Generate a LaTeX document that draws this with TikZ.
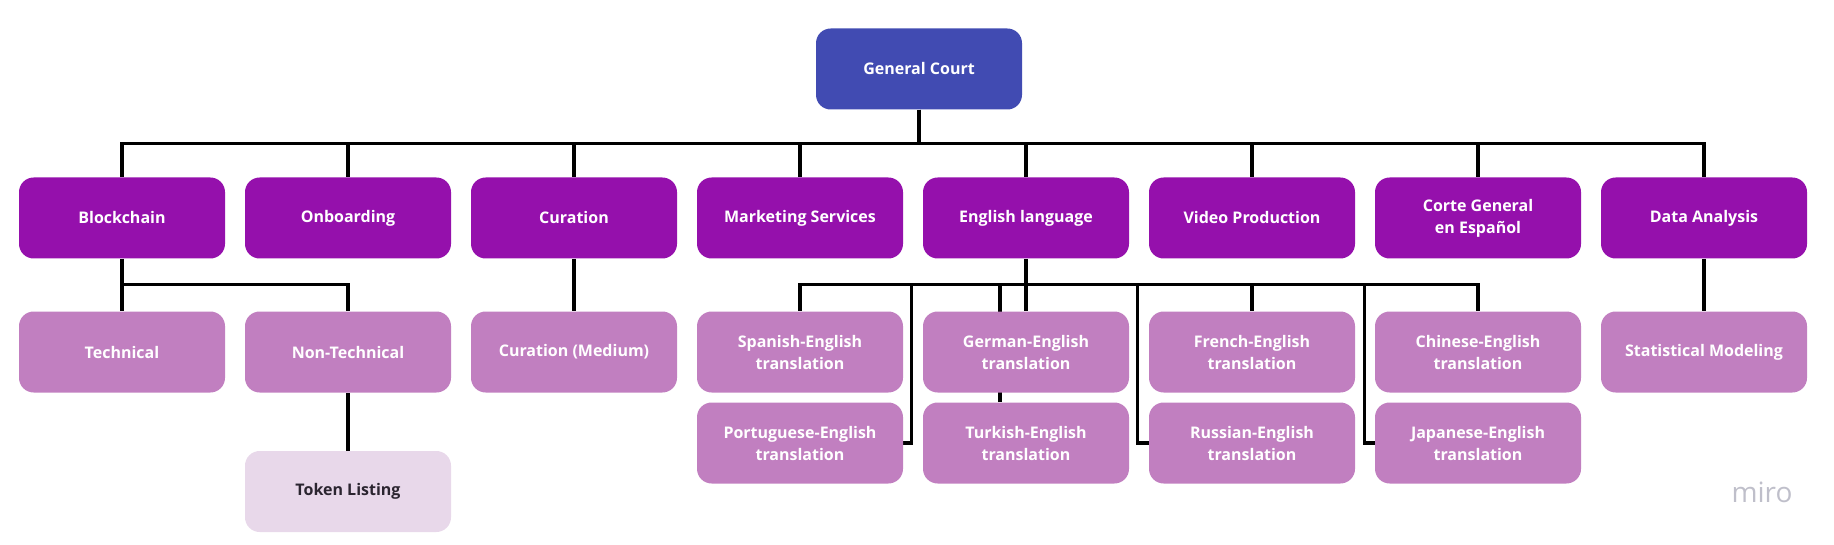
\documentclass[tikz,border=0pt]{standalone}
\usepackage{fontspec}
\setmainfont{Open Sans}
\usetikzlibrary{backgrounds}
\definecolor{courtblue}{HTML}{414BB2}
\definecolor{unitpurple}{HTML}{9510AC}
\definecolor{subpurple}{HTML}{C17FC0}
\definecolor{leaflilac}{HTML}{E8D8EA}
\definecolor{leaftext}{HTML}{2B2530}
\definecolor{mirogray}{HTML}{BFBFCA}
\begin{document}
\begin{tikzpicture}[x=0.75pt, y=-0.75pt,
  font=\fontsize{12}{16.5}\selectfont\bfseries,
  box/.style={rounded corners=11pt, align=center, minimum width=154.5pt, minimum height=60.75pt, inner sep=2pt, text=white},
  courtbox/.style={box, fill=courtblue},
  unitbox/.style={box, fill=unitpurple},
  subbox/.style={box, fill=subpurple},
  leafbox/.style={box, fill=leaflilac, text=leaftext},
  link/.style={draw=black, line width=2.4pt}]
  \useasboundingbox (0,0) rectangle (1834,545);
  \node[courtbox] (court) at (919,69) {General Court};
  % departments
  \node[unitbox] (blockchain) at (122,218) {Blockchain};
  \node[unitbox] (onboarding) at (348,218) {Onboarding};
  \node[unitbox] (curation) at (574,218) {Curation};
  \node[unitbox] (marketing) at (800,218) {Marketing Services};
  \node[unitbox] (english) at (1026,218) {English language};
  \node[unitbox] (video) at (1252,218) {Video Production};
  \node[unitbox] (corte) at (1478,218) {Corte General\\en Español};
  \node[unitbox] (data) at (1704,218) {Data Analysis};
  % sub-teams
  \node[subbox] (technical) at (122,352) {Technical};
  \node[subbox] (nontech) at (348,352) {Non-Technical};
  \node[subbox] (curmedium) at (574,352) {Curation (Medium)};
  \node[subbox] (spanish) at (800,352) {Spanish-English\\translation};
  \node[subbox] (german) at (1026,352) {German-English\\translation};
  \node[subbox] (french) at (1252,352) {French-English\\translation};
  \node[subbox] (chinese) at (1478,352) {Chinese-English\\translation};
  \node[subbox] (stats) at (1704,352) {Statistical Modeling};
  \node[subbox] (portuguese) at (800,443) {Portuguese-English\\translation};
  \node[subbox] (turkish) at (1026,443) {Turkish-English\\translation};
  \node[subbox] (russian) at (1252,443) {Russian-English\\translation};
  \node[subbox] (japanese) at (1478,443) {Japanese-English\\translation};
  \node[leafbox] (token) at (348,491.5) {Token Listing};
  \node[anchor=base, text=mirogray, font=\fontsize{21}{21}\selectfont] (miro) at (1762,502) {miro};
  \begin{scope}[on background layer]
    \foreach \u in {blockchain,onboarding,curation,marketing,english,video,corte,data}
      \draw[link] (court.south) -- ++(0,34) -| (\u.north);
    \draw[link] (blockchain.south) -- (technical.north);
    \draw[link] (blockchain.south) -- ++(0,26) -| (nontech.north);
    \draw[link] (nontech.south) -- (token.north);
    \draw[link] (curation.south) -- (curmedium.north);
    \draw[link] (data.south) -- (stats.north);
    \path (english.south) ++(0,26) coordinate (engbar);
    \draw[link] (english.south) -- (german.north);
    \foreach \t in {spanish,french,chinese}
      \draw[link] (engbar) -| (\t.north);
    \draw[link] (turkish.north) ++(-26,0) |- (engbar);
    \draw[link] (portuguese.east) -- ++(8,0) |- (engbar);
    \draw[link] (russian.west) -- ++(-11,0) |- (engbar);
    \draw[link] (japanese.west) -- ++(-10,0) |- (engbar);
  \end{scope}
\end{tikzpicture}
\end{document}
